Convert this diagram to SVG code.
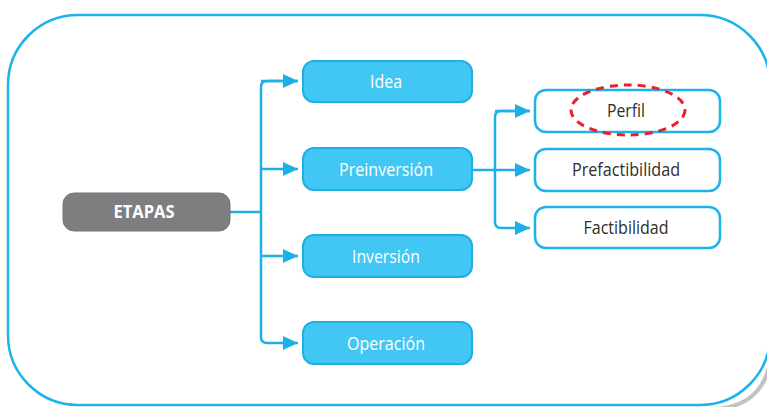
<svg xmlns="http://www.w3.org/2000/svg" width="767" height="407" viewBox="0 0 767 407">
<style>
.frame{fill:#fff;stroke:#1cb3ea;stroke-width:2.5}
.shadow{fill:none;stroke:#9a9a9a;stroke-width:4;opacity:0.6}
.blue{fill:#42c7f4;stroke:#1cb0e6;stroke-width:2}
.white{fill:#fff;stroke:#1cb3ea;stroke-width:2.5}
.grey{fill:#7e7e81;stroke:#747477;stroke-width:1}
.tw{font-family:"Open Sans","Liberation Sans",sans-serif;font-size:19px;fill:#fff;text-anchor:middle}
.tb{font-family:"Open Sans","Liberation Sans",sans-serif;font-size:19px;fill:#2e2e2e;text-anchor:middle}
.te{font-family:"Open Sans","Liberation Sans",sans-serif;font-size:17px;font-weight:bold;fill:#fff;text-anchor:middle}
.conn{fill:none;stroke:#1cb0e6;stroke-width:2.5}
</style>
<defs>
<marker id="arr" markerWidth="16" markerHeight="14" refX="15" refY="7" orient="auto" markerUnits="userSpaceOnUse">
<path d="M0,0 L15,7 L0,14 Z" fill="#1cb0e6"/>
</marker>
</defs>
<path class="shadow" d="M772,300 L772,340 Q772,408 712,409 L80,409"/>
<rect class="frame" x="8" y="15" width="762" height="390" rx="70" ry="70"/>
<g id="connectors">
<path class="conn" d="M230,212 L261,212"/>
<path class="conn" d="M298,81 L267,81 Q261,81 261,87 L261,337 Q261,343 267,343 L298,343" marker-end="url(#arr)"/>
<path class="conn" d="M261,81 L298,81" marker-end="url(#arr)"/>
<path class="conn" d="M261,169 L298,169" marker-end="url(#arr)"/>
<path class="conn" d="M261,256 L298,256" marker-end="url(#arr)"/>
<path class="conn" d="M472,170 L530,170" marker-end="url(#arr)"/>
<path class="conn" d="M530,111 L501,111 Q495,111 495,117 L495,222 Q495,228 501,228 L530,228" marker-end="url(#arr)"/>
<path class="conn" d="M495,111 L530,111" marker-end="url(#arr)"/>
</g>
<g id="etapas"><rect class="grey" x="63" y="193" width="167" height="38" rx="11"/><text class="te" x="144" y="218" textLength="61" lengthAdjust="spacingAndGlyphs">ETAPAS</text></g>
<g id="idea"><rect class="blue" x="303" y="61" width="169" height="41" rx="11"/><text class="tw" x="386" y="88" textLength="32" lengthAdjust="spacingAndGlyphs">Idea</text></g>
<g id="preinversion"><rect class="blue" x="303" y="148" width="169" height="42" rx="11"/><text class="tw" x="386" y="176" textLength="94" lengthAdjust="spacingAndGlyphs">Preinversión</text></g>
<g id="inversion"><rect class="blue" x="303" y="235" width="169" height="42" rx="11"/><text class="tw" x="386" y="263" textLength="68" lengthAdjust="spacingAndGlyphs">Inversión</text></g>
<g id="operacion"><rect class="blue" x="303" y="322" width="169" height="42" rx="11"/><text class="tw" x="386" y="350" textLength="78" lengthAdjust="spacingAndGlyphs">Operación</text></g>
<g id="perfil"><rect class="white" x="535" y="90" width="185" height="42" rx="11"/><text class="tb" x="626" y="117" textLength="38" lengthAdjust="spacingAndGlyphs">Perfil</text>
<ellipse cx="628" cy="110" rx="57" ry="25" fill="none" stroke="#e8202a" stroke-width="3" stroke-dasharray="8 6"/></g>
<g id="prefactibilidad"><rect class="white" x="535" y="149" width="185" height="42" rx="11"/><text class="tb" x="626" y="176" textLength="108" lengthAdjust="spacingAndGlyphs">Prefactibilidad</text></g>
<g id="factibilidad"><rect class="white" x="535" y="207" width="185" height="41" rx="11"/><text class="tb" x="626" y="234" textLength="85" lengthAdjust="spacingAndGlyphs">Factibilidad</text></g>
</svg>
